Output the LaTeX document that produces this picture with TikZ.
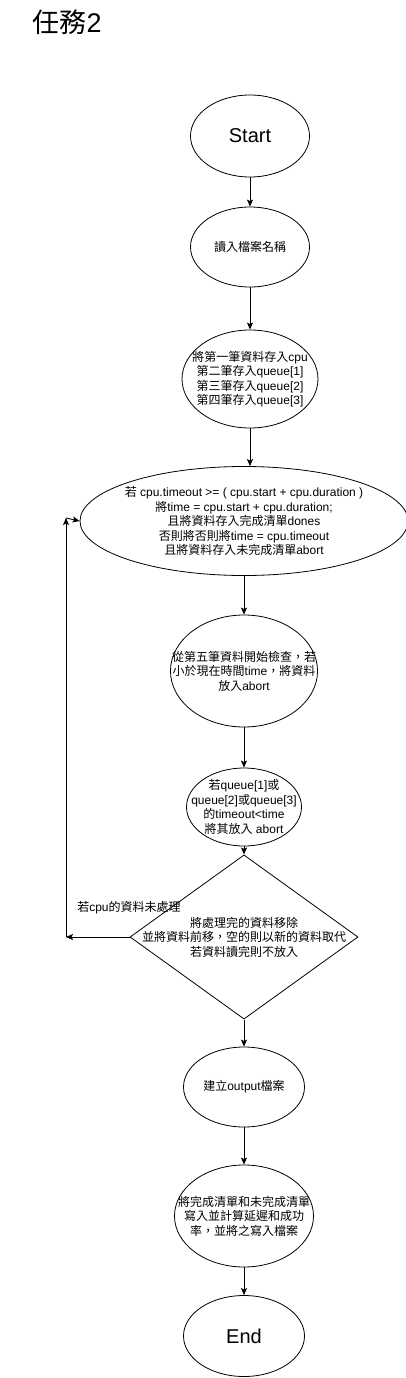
\documentclass[tikz,border=0pt]{standalone}
\usepackage{fontspec}
\setmainfont{Liberation Sans}
\newfontfamily\zhfont{Noto Sans CJK TC}
\newcommand{\zh}[1]{{\zhfont #1}}
\usetikzlibrary{arrows.meta, shapes.geometric}

\begin{document}
\begin{tikzpicture}[x = 1pt, y = -1pt,
  post/.style = {-{Stealth[length = 7pt, width = 6pt, inset = 1.5pt]}, line width = 0.9pt},
  vtx/.style = {draw, ellipse, line width = 0.8pt, inner sep = -20pt, align = center, font = \fontsize{12}{14.5}\selectfont},
  dec/.style = {vtx, diamond}]
\useasboundingbox (0,0) rectangle (406,1378);
\node[anchor = west, font = \fontsize{27}{30}\selectfont] (title) at (29,22) {\zh{任務}2};
\node[vtx, minimum width = 119pt, minimum height = 82pt, font = \fontsize{20}{24}\selectfont] (v0) at (250,136) {Start};
\node[vtx, minimum width = 119pt, minimum height = 80pt] (v1) at (250,247) {\zh{讀入檔案名稱}};
\node[vtx, minimum width = 136pt, minimum height = 98pt] (v2) at (250,379) {\zh{將第一筆資料存入}cpu\\\zh{第二筆存入}queue[1]\\\zh{第三筆存入}queue[2]\\\zh{第四筆存入}queue[3]};
\node[vtx, minimum width = 328pt, minimum height = 109pt] (v3) at (244,521) {\zh{若} cpu.timeout >= ( cpu.start + cpu.duration )\\\zh{將}time = cpu.start + cpu.duration;\\\zh{且將資料存入完成清單}dones\\\zh{否則將否則將}time = cpu.timeout\\\zh{且將資料存入未完成清單}abort};
\node[vtx, minimum width = 144pt, minimum height = 112pt] (v4) at (244,671) {\zh{從第五筆資料開始檢查，若}\\\zh{小於現在時間}time\zh{，將資料}\\\zh{放入}abort};
\node[vtx, minimum width = 115pt, minimum height = 78pt] (v5) at (244,807) {\zh{若}queue[1]\zh{或}\\queue[2]\zh{或}queue[3]\\\zh{的}timeout<time\\\zh{將其放入} abort};
\node[dec, minimum width = 228pt, minimum height = 118pt] (v6) at (244,937) {\zh{將處理完的資料移除}\\\zh{並將資料前移，空的則以新的資料取代}\\\zh{若資料讀完則不放入}};
\node[vtx, minimum width = 121pt, minimum height = 80pt] (v7) at (244,1087) {\zh{建立}output\zh{檔案}};
\node[vtx, minimum width = 139pt, minimum height = 102pt] (v8) at (244,1216) {\zh{將完成清單和未完成清單}\\\zh{寫入並計算延遲和成功}\\\zh{率，並將之寫入檔案}};
\node[vtx, minimum width = 121pt, minimum height = 81pt, font = \fontsize{20}{24}\selectfont] (v9) at (244,1336) {End};
\node[font = \fontsize{12}{14.5}\selectfont] (lb) at (129,908) {\zh{若}cpu\zh{的資料未處理}};
\coordinate (c1) at (66,937);
\coordinate (c2) at (66,518);
\draw[post] (v0) -- (v1);
\draw[post] (v1) -- (v2);
\draw[post] (v2.south) -- (v2.south |- v3.north);
\draw[post] (v3) -- (v4);
\draw[post] (v4) -- (v5);
\draw[post] (v5) -- (v6);
\draw[post] (v6) -- (v7);
\draw[post] (v7) -- (v8);
\draw[post] (v8) -- (v9);
\draw[post] (v6.west) -- (c1);
\draw[post] (c1) -- (c2);
\draw[post] (c2) -- (v3.west);
\end{tikzpicture}
\end{document}
